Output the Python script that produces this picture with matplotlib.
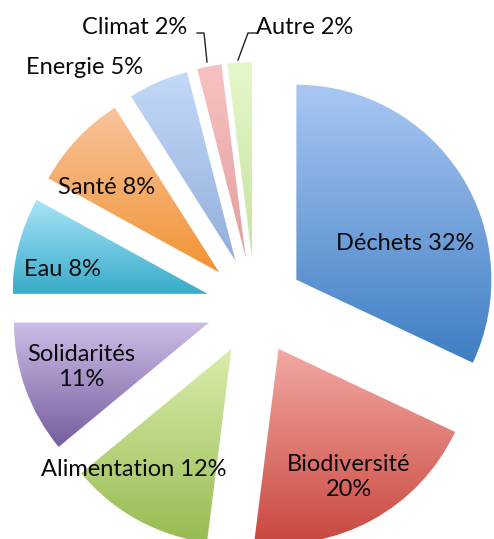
import numpy as np
import matplotlib
matplotlib.use("Agg")
import matplotlib.pyplot as plt
from matplotlib.colors import LinearSegmentedColormap

categories = ["Déchets", "Biodiversité", "Alimentation", "Solidarités", "Eau",
              "Santé", "Energie", "Climat", "Autre"]
values = [32, 20, 12, 11, 8, 8, 5, 2, 2]
top_colors = ["#aac7f3", "#f3a9a4", "#d9eeac", "#ccbee7", "#a8e4f8",
              "#f9c39c", "#c4d9f8", "#f8c2c2", "#e5f8ca"]
bottom_colors = ["#3e7ec3", "#c8463d", "#98bb52", "#775c9e", "#37abc9",
                 "#f29434", "#92aedb", "#e29e9e", "#c6e29e"]
label_texts = ["Déchets 32%", "Biodiversité\n20%", "Alimentation 12%", "Solidarités\n11%",
               "Eau 8%", "Santé 8%", "Energie 5%", "Climat 2%", "Autre 2%"]

W, H = 494, 539
fig = plt.figure(figsize=(W / 100, H / 100), dpi=100)
ax = fig.add_axes([0, 0, 1, 1])
plt.rcParams['font.family'] = ['Lato', 'DejaVu Sans']

center = (255, H - 306)
radius = 195
wedges, _ = ax.pie(values, center=center, radius=radius, explode=[49] * len(values),
                   startangle=90, counterclock=False, frame=True,
                   wedgeprops=dict(linewidth=0, edgecolor="none"))

grad = np.linspace(0, 1, 256).reshape(-1, 1)
for w, c0, c1 in zip(wedges, top_colors, bottom_colors):
    w.set_facecolor("none")
    path = w.get_path()
    verts = path.vertices
    x0, x1 = verts[:, 0].min(), verts[:, 0].max()
    y0, y1 = verts[:, 1].min(), verts[:, 1].max()
    cmap = LinearSegmentedColormap.from_list("g", [c0, c1])
    im = ax.imshow(grad, cmap=cmap, extent=(x0, x1, y0, y1), origin="upper",
                   aspect="auto", interpolation="bilinear", zorder=1)
    im.set_clip_path(w)

ax.set_xlim(0, W)
ax.set_ylim(0, H)
ax.set_aspect("equal")
ax.axis("off")

fs = 17
pos = [(405, 243), (349, 477), (134, 470), (81, 367), (62, 269),
       (107, 187), (85, 67), (135, 28), (305, 28)]
for t, (px, py) in zip(label_texts, pos):
    ax.text(px, H - py, t, ha="center", va="center", fontsize=fs,
            color="#0a0a0a", linespacing=1.25, zorder=5)

# leader lines for small slices
ax.plot([197, 204, 207], [H - 33, H - 33, H - 62], color="#222222", lw=1, zorder=5)
ax.plot([257, 248, 238], [H - 33, H - 33, H - 60], color="#222222", lw=1, zorder=5)

fig.savefig("out.png", dpi=100)
